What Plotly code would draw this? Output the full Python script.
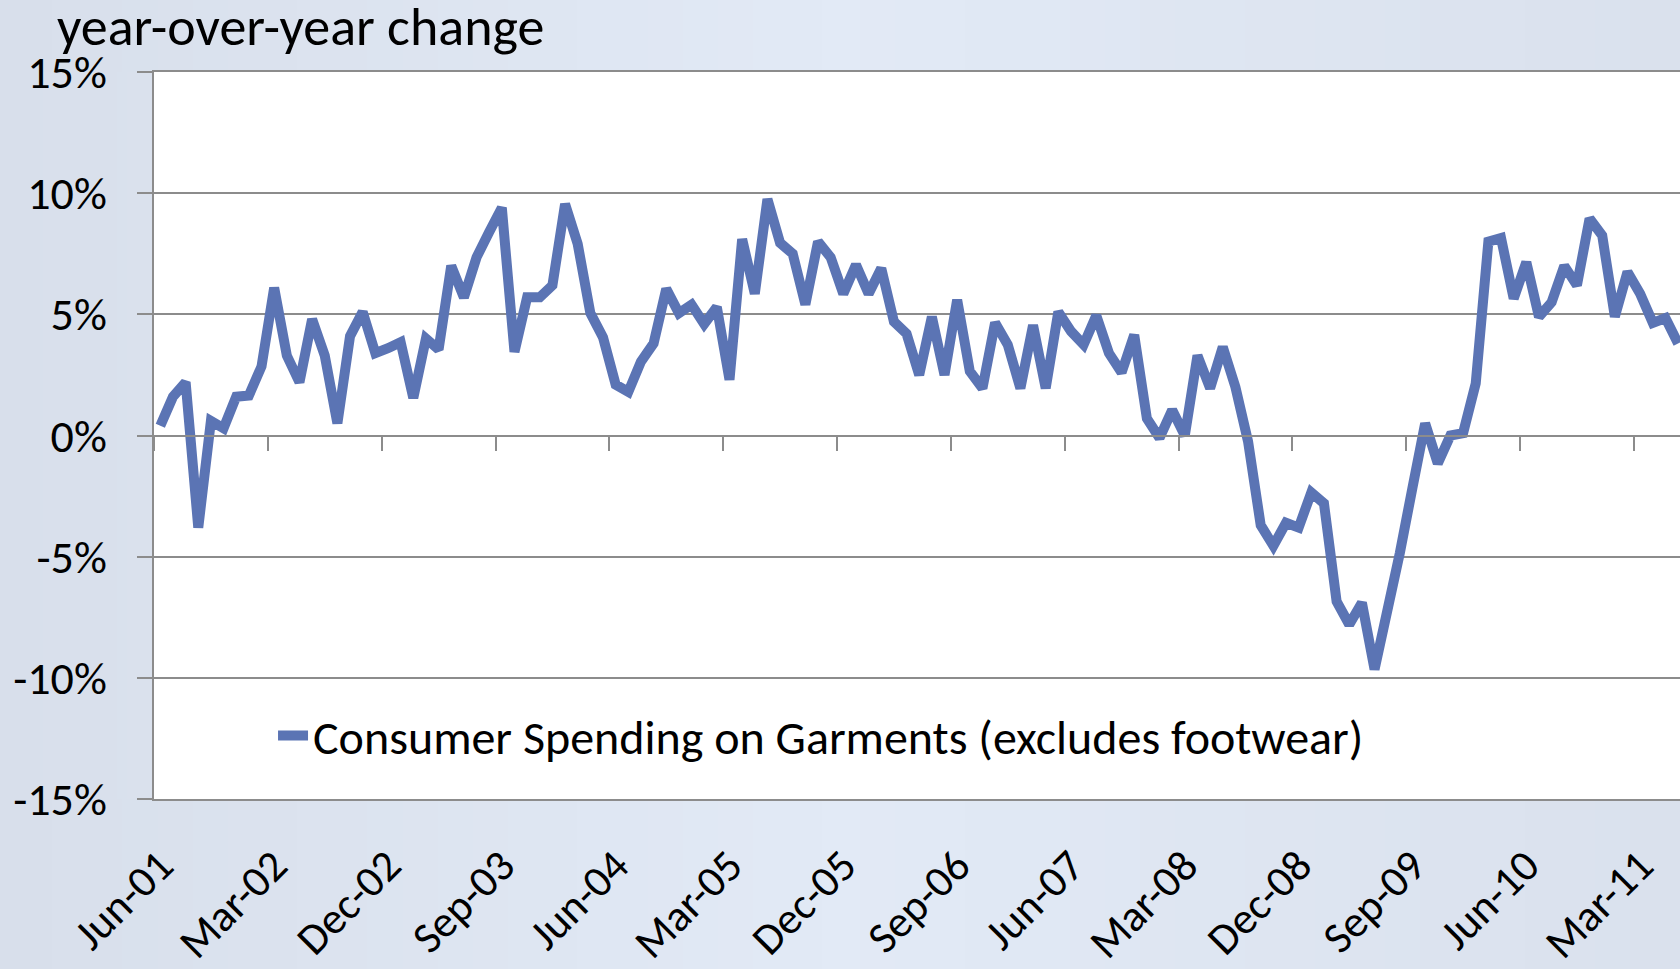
import base64
import struct
import zlib

import plotly.graph_objects as go

# monthly year-over-year change, Jun-01 .. Jun-11
months = list(range(121))
garments_yoy = [
    0.4, 1.6, 2.2, -3.8, 0.6, 0.3, 1.6, 1.65, 2.85, 6.1,
    3.3, 2.2, 4.8, 3.3, 0.5, 4.1, 5.1, 3.4, 3.6, 3.85,
    1.55, 4.0, 3.55, 7.0, 5.7, 7.35, 8.4, 9.4, 3.45, 5.7,
    5.7, 6.2, 9.55, 7.9, 5.05, 4.05, 2.1, 1.8, 3.05, 3.8,
    6.05, 5.05, 5.4, 4.6, 5.3, 2.3, 8.1, 5.85, 9.75, 7.95,
    7.5, 5.4, 8.0, 7.35, 5.85, 7.05, 5.85, 6.9, 4.7, 4.2,
    2.5, 4.9, 2.5, 5.6, 2.65, 1.95, 4.65, 3.75, 1.95, 4.55,
    1.95, 5.1, 4.3, 3.75, 4.95, 3.4, 2.6, 4.15, 0.7, -0.1,
    1.05, 0.0, 3.3, 1.95, 3.65, 2.0, -0.25, -3.7, -4.55, -3.6,
    -3.8, -2.35, -2.8, -6.85, -7.8, -6.9, -9.65, -7.45, -4.85, -2.15,
    0.5, -1.15, 0.0, 0.1, 2.15, 8.0, 8.15, 5.65, 7.15, 4.9,
    5.5, 7.0, 6.2, 8.95, 8.25, 4.9, 6.75, 5.85, 4.65, 4.85,
    3.8,
]
tick_labels = ["Jun-01", "Mar-02", "Dec-02", "Sep-03", "Jun-04", "Mar-05", "Dec-05",
               "Sep-06", "Jun-07", "Mar-08", "Dec-08", "Sep-09", "Jun-10", "Mar-11"]
label_pos = [9 * k for k in range(len(tick_labels))]
boundary_pos = [p - 0.5 for p in label_pos]
y_ticks = [-15, -10, -5, 0, 5, 10, 15]
y_ticktext = ["-15%", "-10%", "-5%", "0%", "5%", "10%", "15%"]

FONT = "Carlito, Calibri, Lato, sans-serif"
GRID = "#8c8c8c"
x_range = [-0.5, 120.15]

W, H = 1680, 969
ML, MT, MB = 154, 72, 170
PW, PH = W - ML, H - MT - MB

# slide background: soft horizontal blue-grey gradient
bg_left, bg_mid, bg_right = (216, 223, 235), (226, 234, 246), (218, 225, 237)


def bg_color(px):
    if px <= W / 2:
        a, b, t = bg_left, bg_mid, px / (W / 2)
    else:
        a, b, t = bg_mid, bg_right, (px - W / 2) / (W / 2)
    return tuple(round(a[i] + (b[i] - a[i]) * t) for i in range(3))


def gradient_png(x0, x1, n=48):
    row = b"\x00" + b"".join(bytes(bg_color(x0 + (x1 - x0) * (k + 0.5) / n)) for k in range(n))

    def chunk(tag, data):
        c = tag + data
        return struct.pack(">I", len(data)) + c + struct.pack(">I", zlib.crc32(c) & 0xFFFFFFFF)

    png = (b"\x89PNG\r\n\x1a\n" + chunk(b"IHDR", struct.pack(">IIBBBBB", n, 1, 8, 2, 0, 0, 0))
           + chunk(b"IDAT", zlib.compress(row)) + chunk(b"IEND", b""))
    return "data:image/png;base64," + base64.b64encode(png).decode()


def bg_strip(x0, x1, y0, y1):
    # pixel box -> paper coordinates
    return dict(source=gradient_png(x0, x1), xref="paper", yref="paper",
                x=(x0 - ML) / PW, y=1 + (MT - y0) / PH,
                sizex=(x1 - x0) / PW, sizey=(y1 - y0) / PH,
                xanchor="left", yanchor="top", sizing="stretch", layer="below")


fig = go.Figure()
fig.add_trace(go.Scatter(
    x=months, y=garments_yoy, mode="lines",
    name="Consumer Spending on Garments (excludes footwear)",
    line=dict(color="#5b74b4", width=10),
))
# dummy trace so the category-boundary tick axis is drawn
fig.add_trace(go.Scatter(x=[x_range[0]], y=[None], xaxis="x2", showlegend=False,
                         hoverinfo="skip", mode="lines"))

fig.update_layout(
    width=W, height=H,
    margin=dict(l=ML, r=0, t=MT, b=MB),
    paper_bgcolor="#dde5f1",
    plot_bgcolor="white",
    font=dict(family=FONT, color="black", size=46),
    images=[
        bg_strip(0, W, 0, MT),
        bg_strip(0, ML, MT, H - MB),
        bg_strip(0, W, H - MB, H),
    ],
    xaxis=dict(
        range=x_range, tickvals=label_pos, ticktext=tick_labels, tickangle=-45,
        showgrid=False, zeroline=False, showline=True, mirror=True,
        linecolor=GRID, linewidth=2, ticks="", ticklabelstandoff=21,
        tickfont=dict(size=44), automargin=False,
    ),
    xaxis2=dict(
        overlaying="x", anchor="free", position=0.5, range=x_range,
        tickvals=boundary_pos, ticks="outside", ticklen=14, tickwidth=2, tickcolor=GRID,
        showticklabels=False, showgrid=False, zeroline=False, showline=True,
        linecolor=GRID, linewidth=2, automargin=False,
    ),
    yaxis=dict(
        range=[-15, 15], tickvals=y_ticks, ticktext=y_ticktext,
        showgrid=True, gridcolor=GRID, gridwidth=2, zeroline=False,
        showline=True, linecolor=GRID, linewidth=2,
        ticks="outside", ticklen=15, tickwidth=2, tickcolor=GRID,
        ticklabelstandoff=21, tickfont=dict(size=46), automargin=False,
    ),
    legend=dict(
        x=0.078, y=0.087, xanchor="left", yanchor="middle",
        bgcolor="rgba(0,0,0,0)", font=dict(size=48),
    ),
    annotations=[dict(
        text="year-over-year change", xref="paper", yref="paper",
        x=-0.065, y=1 + 45 / 727, xanchor="left", yanchor="middle",
        showarrow=False, font=dict(size=54),
    )],
)

fig.write_html("out.html", config={"displayModeBar": False},
               post_script="document.body.style.margin='0';")
